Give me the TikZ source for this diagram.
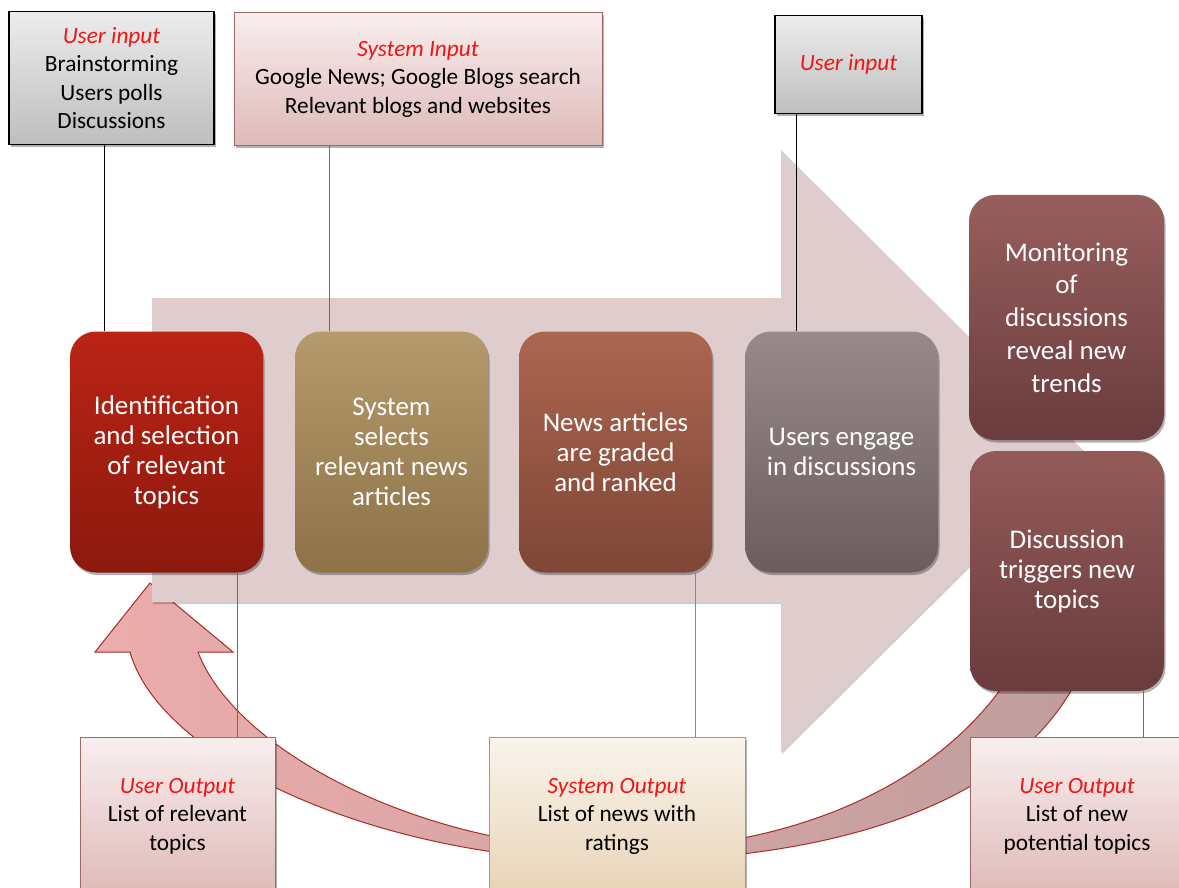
\documentclass[tikz,border=0pt]{standalone}
\usepackage{fontspec}
\setmainfont{Carlito}
\usetikzlibrary{shadows}

\definecolor{bigarrowfill}{RGB}{223,205,206}
\definecolor{labelred}{RGB}{240,20,20}
\definecolor{loopedge}{RGB}{165,45,40}
\definecolor{pinkedge}{RGB}{160,104,100}
\definecolor{creamedge}{RGB}{175,150,115}

\begin{document}
\begin{tikzpicture}[x=1pt,y=-1pt,
  softshadow/.style={drop shadow={shadow xshift=1.5pt,shadow yshift=-2.5pt,opacity=0.3,fill=black}},
  procbox/.style={rounded corners=26pt,minimum height=241pt,minimum width=193pt,
    text=white,align=center,inner sep=0pt,softshadow,
    font=\fontsize{27}{30}\selectfont},
  greybox/.style={draw=black,line width=1.6pt,top color={rgb,255:red,236;green,236;blue,236},
    bottom color={rgb,255:red,190;green,190;blue,190},align=center,inner sep=0pt,softshadow,
    font=\fontsize{23.3}{28.5}\selectfont},
  pinkbox/.style={draw=pinkedge,line width=1pt,top color={rgb,255:red,248;green,238;blue,238},
    bottom color={rgb,255:red,222;green,186;blue,184},align=center,inner sep=0pt,softshadow,
    font=\fontsize{23.3}{28.5}\selectfont},
  creambox/.style={draw=creamedge,line width=1pt,top color={rgb,255:red,250;green,244;blue,236},
    bottom color={rgb,255:red,232;green,212;blue,182},align=center,inner sep=0pt,softshadow,
    font=\fontsize{23.3}{28.5}\selectfont},
  darkconn/.style={draw=black,line width=1.3pt},
  brownconn/.style={draw={rgb,255:red,140;green,95;blue,90},line width=1.2pt},
  tanconn/.style={draw={rgb,255:red,160;green,130;blue,100},line width=1.2pt},
]
\clip (0,0) rectangle (1179,888);
\fill[white] (0,0) rectangle (1179,888);

% curved feedback arrow running back to the first step
\shade[left color={rgb,255:red,236;green,172;blue,172},
       middle color={rgb,255:red,248;green,222;blue,222},
       right color={rgb,255:red,192;green,158;blue,158},
       draw=loopedge,line width=1pt]
  (1077,680) .. controls (1010,810) and (820,861) .. (617,861)
  .. controls (380,861) and (160,760) .. (130,652)
  -- (95,652) -- (150,583) -- (233,652) -- (198,652)
  .. controls (235,750) and (420,848) .. (617,850)
  .. controls (800,850) and (940,780) .. (1007,680) -- cycle;

% wide block arrow behind the process steps
\fill[bigarrowfill,drop shadow={shadow xshift=1pt,shadow yshift=-2pt,opacity=0.2,fill=black}]
  (152,298) -- (781,298) -- (781,150) -- (1084,451) -- (781,752) -- (781,602) -- (152,602) -- cycle;

% process steps
\node[procbox,top color={rgb,255:red,186;green,36;blue,20},bottom color={rgb,255:red,140;green,25;blue,14}]
  (p1) at (166.5,452) {Identification\\and selection\\of relevant\\topics};
\node[procbox,top color={rgb,255:red,180;green,154;blue,108},bottom color={rgb,255:red,140;green,114;blue,70}]
  (p2) at (391.5,452) {System\\selects\\relevant news\\articles};
\node[procbox,top color={rgb,255:red,172;green,102;blue,80},bottom color={rgb,255:red,126;green,70;blue,54}]
  (p3) at (615.5,452) {News articles\\are graded\\and ranked};
\node[procbox,top color={rgb,255:red,152;green,137;blue,138},bottom color={rgb,255:red,108;green,92;blue,94}]
  (p4) at (841.5,452) {Users engage\\in discussions};
\node[procbox,minimum width=195pt,minimum height=245pt,font=\fontsize{27}{32.7}\selectfont,
  top color={rgb,255:red,152;green,94;blue,94},bottom color={rgb,255:red,106;green,60;blue,61}]
  (p5) at (1066.5,317.5) {Monitoring\\of\\discussions\\reveal new\\trends};
\node[procbox,minimum width=194pt,minimum height=240pt,
  top color={rgb,255:red,148;green,90;blue,90},bottom color={rgb,255:red,106;green,60;blue,61}]
  (p6) at (1067,571) {Discussion\\triggers new\\topics};

% input boxes
\node[greybox,minimum width=205pt,minimum height=133pt] (in1) at (111.5,78)
  {{\itshape\color{labelred}User input}\\Brainstorming\\Users polls\\Discussions};
\node[pinkbox,minimum width=368pt,minimum height=133pt] (in2) at (418,79)
  {{\itshape\color{labelred}System Input}\\Google News; Google Blogs search\\Relevant blogs and websites};
\node[greybox,minimum width=147pt,minimum height=98pt] (in3) at (848.5,64.5)
  {\itshape\color{labelred}User input};

% output boxes
\node[pinkbox,minimum width=195pt,minimum height=158pt] (out1) at (177.5,816)
  {{\itshape\color{labelred}User Output}\\List of relevant\\topics};
\node[creambox,minimum width=256pt,minimum height=158pt] (out2) at (617,816)
  {{\itshape\color{labelred}System Output}\\List of news with\\ratings};
\node[pinkbox,minimum width=214pt,minimum height=158pt] (out3) at (1077,816)
  {{\itshape\color{labelred}User Output}\\List of new\\potential topics};

% connectors from inputs to steps and from steps to outputs
\draw[darkconn] ([xshift=35pt]p1.north west) -- ([xshift=35pt]p1.north west |- in1.south);
\draw[brownconn] ([xshift=35pt]p2.north west) -- ([xshift=35pt]p2.north west |- in2.south);
\draw[darkconn] ([xshift=52pt]p4.north west) -- ([xshift=52pt]p4.north west |- in3.south);
\draw[brownconn] ([xshift=-26pt]p1.south east) -- ([xshift=-26pt]p1.south east |- out1.north);
\draw[tanconn] ([xshift=-17pt]p3.south east) -- ([xshift=-17pt]p3.south east |- out2.north);
\draw[brownconn] ([xshift=-21pt]p6.south east) -- ([xshift=-21pt]p6.south east |- out3.north);
\end{tikzpicture}
\end{document}
